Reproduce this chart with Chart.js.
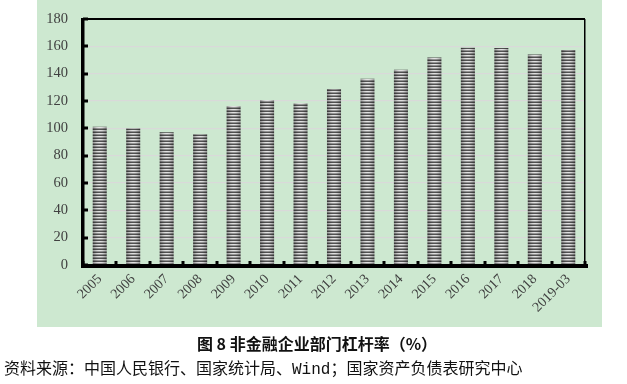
<!DOCTYPE html>
<html><head><meta charset="utf-8">
<script src="https://cdn.jsdelivr.net/npm/chart.js@4/dist/chart.umd.min.js"></script>
<style>
html,body{margin:0;padding:0;background:#fff;width:627px;height:384px;overflow:hidden;}
#wrap{position:relative;width:627px;height:384px;}
#c{position:absolute;left:0;top:0;}
.cap{position:absolute;left:0;width:627px;text-align:center;top:333px;font:bold 16px "Noto Sans CJK SC";color:#111;line-height:20px;padding-left:7px;box-sizing:border-box;}
.src{position:absolute;left:4px;top:357px;font:16px "Noto Sans CJK SC";color:#111;line-height:20px;white-space:nowrap;}
</style></head>
<body><div id="wrap">
<canvas id="c" width="627" height="384"></canvas>
<div class="cap">图 8 非金融企业部门杠杆率（%）</div>
<div class="src">资料来源：中国人民银行、国家统计局、<span style="font-family:'Liberation Mono'">Wind</span>；国家资产负债表研究中心</div>
</div>
<script>
const categories = ['2005','2006','2007','2008','2009','2010','2011','2012','2013','2014','2015','2016','2017','2018','2019-03'];
const leverage = [101.2, 99.8, 97.2, 95.7, 116.4, 120.8, 118.3, 128.8, 136.3, 142.9, 151.8, 158.9, 158.7, 154.0, 157.4];
const yTicks = [0,20,40,60,80,100,120,140,160,180];

const BAR_PCT = 0.42;
const patCache = {};
function barPattern(ctx) {
  const chart = ctx.chart;
  const xs = chart.scales && chart.scales.x;
  if (!xs || ctx.dataIndex === undefined) return '#888';
  const catW = (xs.right - xs.left) / categories.length;
  if (!isFinite(catW) || catW <= 0) return '#888';
  const bw = Math.max(2, Math.round(catW * BAR_PCT));
  const cx = xs.getPixelForValue(ctx.dataIndex);
  if (!isFinite(cx)) return '#888';
  const left = cx - bw / 2;
  let base = patCache[bw];
  if (!base) {
    const pc = document.createElement('canvas');
    pc.width = bw; pc.height = 3;
    const p = pc.getContext('2d');
    const rows = [75, 205, 135];
    for (let i = 0; i < bw; i++) {
      const t = (i + 0.5) / bw;
      const f = 0.72 + 0.38 * Math.sin(Math.PI * t);
      for (let r = 0; r < 3; r++) {
        const v = Math.min(255, Math.round(rows[r] * f));
        p.fillStyle = `rgb(${v},${v},${v})`;
        p.fillRect(i, r, 1, 1);
      }
    }
    base = patCache[bw] = pc;
  }
  const pat = chart.ctx.createPattern(base, 'repeat');
  pat.setTransform(new DOMMatrix().translate(left, 0));
  return pat;
}

const framePlugin = {
  id: 'frame',
  beforeDraw(chart) {
    const c = chart.ctx;
    c.save();
    c.fillStyle = '#cde8d0';
    c.fillRect(37, 0, 565, 327);
    c.restore();
  },
  afterDraw(chart) {
    const c = chart.ctx, a = chart.chartArea, xs = chart.scales.x, ys = chart.scales.y;
    c.save();
    c.fillStyle = '#000';
    c.fillRect(a.left, Math.round(a.top) - 1, a.right - a.left, 2);
    c.fillRect(Math.round(a.right) - 1, a.top, 1.5, a.bottom - a.top);
    c.fillRect(Math.round(a.left) - 2, Math.round(a.top) - 1, 3.5, a.bottom - a.top + 3);
    c.fillRect(Math.round(a.left) - 2, Math.round(a.bottom) - 1, a.right - a.left + 5, 4);
    yTicks.forEach(v => {
      const y = ys.getPixelForValue(v);
      c.fillRect(Math.round(a.left), Math.round(y) - 1.5, 5, 3);
    });
    for (let i = 0; i <= categories.length; i++) {
      const x = xs.getPixelForValue(i - 0.5);
      c.fillRect(Math.round(x) - 1.5, Math.round(a.bottom) - 4, 3, 4);
    }
    c.restore();
  }
};

new Chart(document.getElementById('c'), {
  type: 'bar',
  data: {
    labels: categories,
    datasets: [{
      data: leverage,
      backgroundColor: barPattern,
      borderWidth: 0,
      categoryPercentage: 1,
      barPercentage: BAR_PCT
    }]
  },
  options: {
    responsive: false,
    animation: false,
    devicePixelRatio: 1,
    layout: { padding: { left: 37, top: 19, right: 42, bottom: 0 } },
    plugins: { legend: { display: false }, tooltip: { enabled: false } },
    scales: {
      x: {
        offset: true,
        grid: { display: false, drawTicks: false },
        border: { display: false },
        ticks: {
          autoSkip: false, maxRotation: 45, minRotation: 45,
          font: { family: 'Liberation Serif', size: 14 }, color: '#404040', padding: 6
        },
        afterFit(s) { s.height = 384 - 265; }
      },
      y: {
        min: 0, max: 180,
        grid: { color: '#d9d9d9', lineWidth: 1.2, drawTicks: true, tickLength: 13, tickColor: 'rgba(0,0,0,0)' },
        border: { display: false },
        ticks: {
          stepSize: 20,
          font: { family: 'Liberation Serif', size: 14.5 }, color: '#404040', padding: 2
        },
        afterFit(s) { s.width = 46; }
      }
    }
  },
  plugins: [framePlugin]
});
</script>
</body></html>
